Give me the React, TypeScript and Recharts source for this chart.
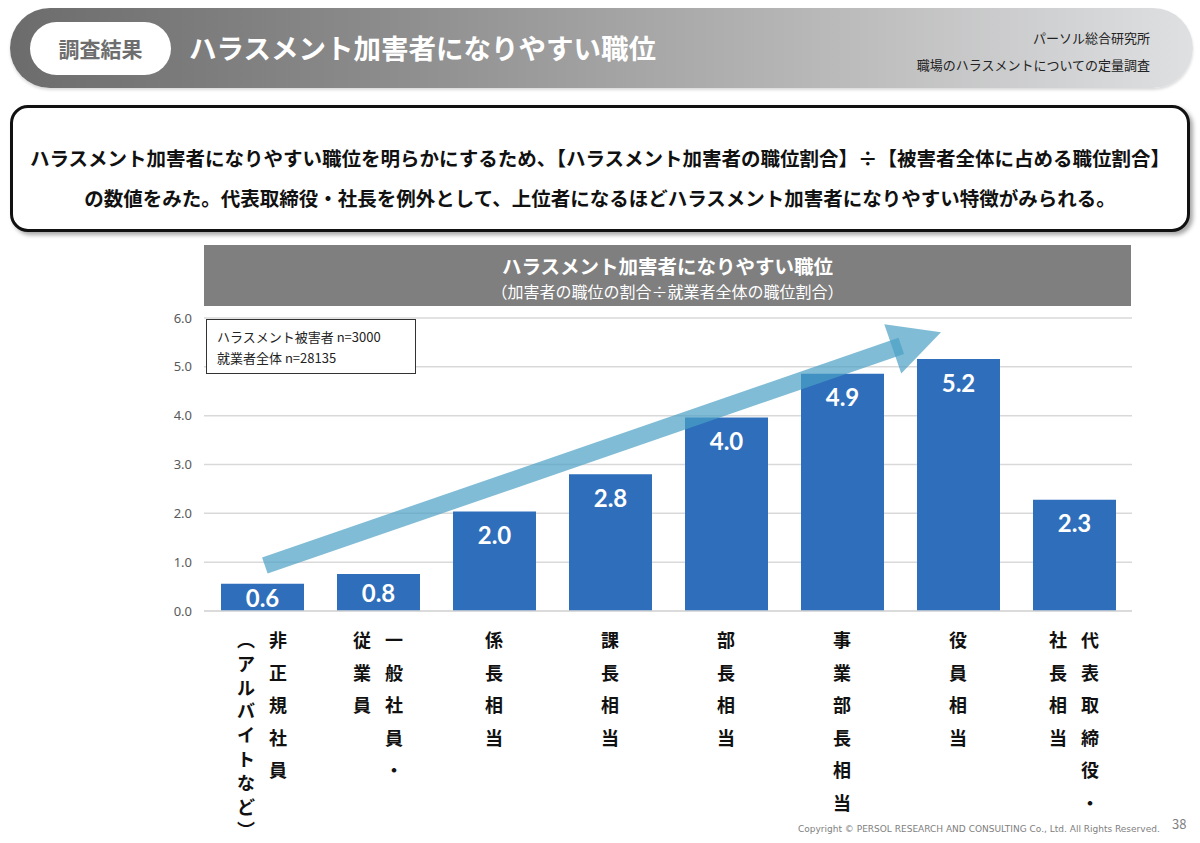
import React from "react";
import { Bar, BarChart, CartesianGrid, LabelList, ReferenceLine, XAxis, YAxis } from "recharts";

const categories = [
  "非正規社員（アルバイトなど）",
  "一般社員・従業員",
  "係長相当",
  "課長相当",
  "部長相当",
  "事業部長相当",
  "役員相当",
  "代表取締役・社長相当"
];

// 加害者の職位の割合 ÷ 就業者全体の職位割合
const ratios = [0.56, 0.76, 2.04, 2.8, 3.96, 4.86, 5.16, 2.28];

// vertical label columns, right column first
const tickColumns = [
  ["非正規社員", "︵アルバイトなど︶"],
  ["一般社員・", "従業員"],
  ["係長相当"],
  ["課長相当"],
  ["部長相当"],
  ["事業部長相当"],
  ["役員相当"],
  ["代表取締役・", "社長相当"]
];

const yTicks = [0, 1, 2, 3, 4, 5, 6];
const sampleNotes = ["ハラスメント被害者 n=3000", "就業者全体 n=28135"];

// trend arrow anchored to the chart's own scales
const trendFrom = { category: 0, value: 0.91 };
const trendTo = { category: 6, value: 5.83 };

const data = categories.map((name, i) => ({ name, ratio: ratios[i] }));

const JP = '"Noto Sans CJK JP", "Noto Sans", sans-serif';

function VerticalTick(props: any) {
  const { x, y, payload } = props;
  const idx = categories.indexOf(payload.value);
  const cols = tickColumns[idx] || [payload.value];
  const gap = 32;
  return (
    <g>
      {cols.map((col, c) => {
        const cx = x + ((cols.length - 1) / 2 - c) * gap;
        const step = col.length > 6 ? 23.8 : 32.5;
        return Array.from(col).map((ch, r) => (
          <text
            key={`${c}-${r}`}
            x={cx}
            y={y + 26 + r * step}
            textAnchor="middle"
            dominantBaseline="central"
            fontFamily={JP}
            fontWeight={700}
            fontSize={18}
            fill="#111"
          >
            {ch}
          </text>
        ));
      })}
    </g>
  );
}

function ValueLabel(props: any) {
  const vb = props.viewBox || props;
  const { x, y, width, height } = vb;
  if (x == null) return null;
  const cy = height < 50 ? y + height / 2 : y + 23;
  return (
    <text
      x={x + width / 2}
      y={cy}
      textAnchor="middle"
      dominantBaseline="central"
      fill="#ffffff"
      fontFamily="Lato, 'DejaVu Sans', sans-serif"
      fontWeight={700}
      fontSize={24}
    >
      {Number(props.value).toFixed(1)}
    </text>
  );
}

function TrendArrow(props: any) {
  const { x1, y1, x2, y2 } = props;
  if (x1 == null || y1 == null) return null;
  const dx = x2 - x1;
  const dy = y2 - y1;
  const len = Math.hypot(dx, dy);
  const ux = dx / len;
  const uy = dy / len;
  const nx = -uy;
  const ny = ux;
  const tail = 3;
  const tip = len - 18;
  const headLen = 51;
  const half = 8.5;
  const headHalf = 26;
  const p = (d: number, w: number) => `${x1 + ux * d + nx * w},${y1 + uy * d + ny * w}`;
  const shaft = [p(tail, -half), p(tip - headLen + 9, -half), p(tip - headLen + 9, half), p(tail, half)].join(" ");
  const head = [p(tip - headLen, -headHalf), p(tip, 0), p(tip - headLen, headHalf)].join(" ");
  return (
    <g>
      <polygon points={shaft} fill="#4aa0c4" fillOpacity={0.7} />
      <polygon points={head} fill="#4aa0c4" fillOpacity={0.7} />
    </g>
  );
}

export default function App() {
  return (
    <div
      style={{
        position: "absolute",
        left: 0,
        top: 0,
        width: 1200,
        height: 843,
        background: "#ffffff",
        overflow: "hidden",
        fontFamily: JP
      }}
    >
      {/* header */}
      <div
        style={{
          position: "absolute",
          left: 10,
          top: 8,
          width: 1183,
          height: 80,
          borderRadius: 40,
          background: "linear-gradient(to right, #6c6c6c 0%, #8a8a8a 30%, #b4b4b4 65%, #dfe0e2 100%)",
          boxShadow: "0 2px 3px rgba(0,0,0,0.15)"
        }}
      />
      <div
        style={{
          position: "absolute",
          left: 30,
          top: 22,
          width: 141,
          height: 53,
          borderRadius: 27,
          background: "#ffffff",
          color: "#6e6e6e",
          fontSize: 21,
          fontWeight: 700,
          lineHeight: "53px",
          textAlign: "center"
        }}
      >
        調査結果
      </div>
      <div
        style={{
          position: "absolute",
          left: 189,
          top: 27,
          color: "#ffffff",
          fontSize: 27.5,
          fontWeight: 700,
          lineHeight: "40px",
          whiteSpace: "nowrap"
        }}
      >
        ハラスメント加害者になりやすい職位
      </div>
      <div
        style={{
          position: "absolute",
          right: 50,
          top: 24,
          color: "#222",
          fontSize: 13,
          lineHeight: "27px",
          textAlign: "right"
        }}
      >
        <div>パーソル総合研究所</div>
        <div>職場のハラスメントについての定量調査</div>
      </div>

      {/* summary box */}
      <div
        style={{
          position: "absolute",
          left: 10,
          top: 105,
          width: 1174,
          height: 121,
          border: "3px solid #111",
          borderRadius: 18,
          background: "#fff",
          boxShadow: "3px 3px 4px rgba(0,0,0,0.35)"
        }}
      />
      <div
        style={{
          position: "absolute",
          left: 10,
          width: 1180,
          top: 138,
          textAlign: "center",
          fontSize: 19.5,
          fontWeight: 700,
          lineHeight: "40px",
          color: "#111",
          whiteSpace: "nowrap"
        }}
      >
        <div>ハラスメント加害者になりやすい職位を明らかにするため、【ハラスメント加害者の職位割合】÷【被害者全体に占める職位割合】</div>
        <div>の数値をみた。代表取締役・社長を例外として、上位者になるほどハラスメント加害者になりやすい特徴がみられる。</div>
      </div>

      {/* chart title */}
      <div
        style={{
          position: "absolute",
          left: 204,
          top: 245,
          width: 927,
          height: 61,
          background: "#7f7f7f",
          color: "#fff",
          textAlign: "center"
        }}
      >
        <div style={{ fontSize: 19.5, fontWeight: 700, lineHeight: "22px", marginTop: 10 }}>
          ハラスメント加害者になりやすい職位
        </div>
        <div style={{ fontSize: 16, lineHeight: "20px", marginTop: 4 }}>（加害者の職位の割合÷就業者全体の職位割合）</div>
      </div>

      <div style={{ position: "absolute", left: 140, top: 300 }}>
        <BarChart width={1010} height={543} data={data} margin={{ top: 18, right: 18, left: 0, bottom: 0 }}>
          <CartesianGrid vertical={false} stroke="#d9d9d9" strokeWidth={1.5} />
          <XAxis
            dataKey="name"
            interval={0}
            tickLine={false}
            tickSize={0}
            axisLine={{ stroke: "#d9d9d9", strokeWidth: 1.5 }}
            height={232}
            tick={<VerticalTick />}
          />
          <YAxis
            domain={[0, 6]}
            ticks={yTicks}
            width={64}
            axisLine={false}
            tickLine={false}
            tickMargin={6}
            tickFormatter={(v: number) => v.toFixed(1)}
            tick={{ fill: "#595959", fontSize: 13, fontFamily: "'Noto Sans', sans-serif" }}
          />
          <Bar dataKey="ratio" fill="#2e6ebb" barSize={83} isAnimationActive={false}>
            <LabelList dataKey="ratio" content={<ValueLabel />} />
          </Bar>
          <ReferenceLine
            segment={[
              { x: categories[trendFrom.category], y: trendFrom.value },
              { x: categories[trendTo.category], y: trendTo.value }
            ]}
            ifOverflow="visible"
            shape={<TrendArrow />}
          />
        </BarChart>
      </div>

      {/* sample size note */}
      <div
        style={{
          position: "absolute",
          left: 206,
          top: 319,
          width: 210,
          height: 55,
          border: "1px solid #333",
          background: "#fff",
          fontSize: 13,
          color: "#222",
          lineHeight: "21px",
          paddingLeft: 10,
          paddingTop: 6,
          boxSizing: "border-box"
        }}
      >
        {sampleNotes.map((t) => (
          <div key={t}>{t}</div>
        ))}
      </div>

      <div
        style={{
          position: "absolute",
          left: 798,
          top: 824,
          fontSize: 9,
          color: "#808080",
          fontFamily: "'DejaVu Sans', sans-serif",
          whiteSpace: "nowrap"
        }}
      >
        Copyright © PERSOL RESEARCH AND CONSULTING Co., Ltd. All Rights Reserved.
      </div>
      <div style={{ position: "absolute", left: 1172, top: 814, fontSize: 13, color: "#7f7f7f" }}>38</div>
    </div>
  );
}
